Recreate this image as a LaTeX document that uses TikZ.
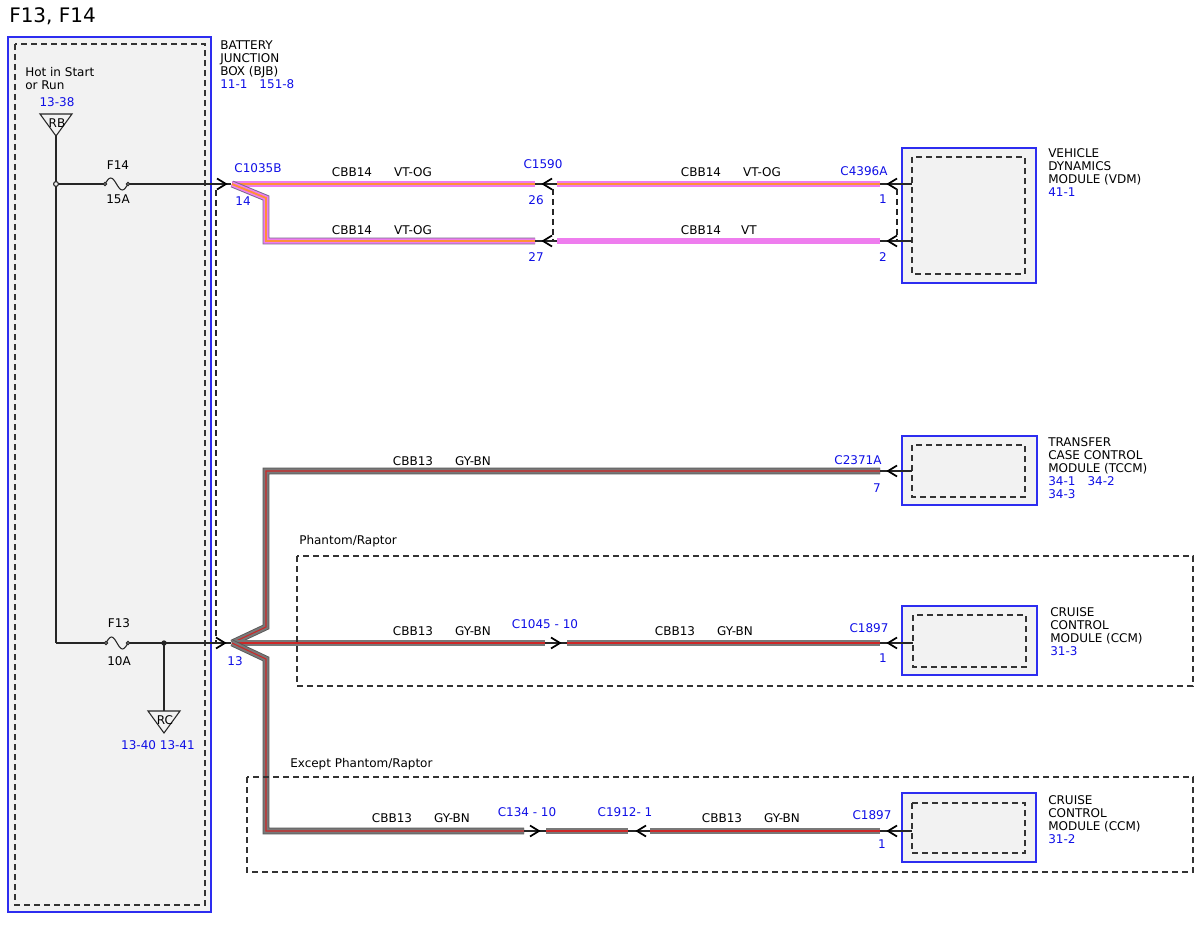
\documentclass[tikz,border=0pt]{standalone}
\usepackage{fontspec}
\setmainfont{DejaVu Sans}
\usetikzlibrary{positioning}
\definecolor{pinblue}{RGB}{15,15,230}
\definecolor{boxblue}{RGB}{45,45,240}
\definecolor{boxfill}{RGB}{242,242,242}
\definecolor{vtedge}{RGB}{120,105,140}
\definecolor{vtpink}{RGB}{238,125,238}
\definecolor{ogorange}{RGB}{255,145,55}
\definecolor{gyedge}{RGB}{85,85,85}
\definecolor{gyfill}{RGB}{120,120,120}
\definecolor{bnred}{RGB}{205,40,40}
\tikzset{
  txt/.style={inner sep=0pt, font=\fontsize{9}{9.75}\selectfont},
  pin/.style={txt, text=pinblue},
  blk/.style={txt, anchor=north west, align=left},
  wire/.style={draw=black!85, line width=0.8pt},
  grpdash/.style={draw=black!85, dash pattern=on 4.5pt off 3pt, line width=0.9pt},
  modbox/.style={draw=boxblue, fill=boxfill, line width=1pt},
  inbox/.style={draw=black!80, dash pattern=on 4.5pt off 3pt, line width=0.9pt},
  optbox/.style={draw=black!80, dash pattern=on 4.5pt off 3pt, line width=0.9pt},
  vtog/.style={draw=vtedge, line width=5.2pt, line join=miter,
    postaction={draw=vtpink, line width=3.8pt, line join=miter},
    postaction={draw=ogorange, line width=1.4pt, line join=miter}},
  vtonly/.style={draw=vtedge, line width=5.2pt,
    postaction={draw=vtpink, line width=3.8pt}},
  gybn/.style={draw=gyedge, line width=5pt, line join=miter,
    postaction={draw=gyfill, line width=3.8pt, line join=miter},
    postaction={draw=bnred, line width=0.8pt, line join=miter}},
  chev/.style={draw=black, line width=1.3pt, line join=miter},
  chevL/.pic={\draw[chev] (9,-5.5) -- (0,0) -- (9,5.5);},
  chevR/.pic={\draw[chev] (-9,-5.5) -- (0,0) -- (-9,5.5);},
}
\begin{document}
\begin{tikzpicture}[x=0.75pt,y=-0.75pt]
\useasboundingbox (0,0) rectangle (1199,927);

\node[txt, anchor=west, font=\fontsize{15}{18}\selectfont] (title) at (9,16) {F13, F14};

% battery junction box
\draw[modbox] (8,37) rectangle (211,912);
\draw[inbox] (15,44) rectangle (205,905);
\node[blk] (bjbname) at (220,40.5) {BATTERY\\JUNCTION\\BOX (BJB)\\\textcolor{pinblue}{11-1\hspace{9pt}151-8}};
\node[blk] (hot) at (25,67.5) {Hot in Start\\or Run};
\node[pin] (rbref) at (57,102) {13-38};
\draw[wire] (40,114) -- (72,114) -- (56,136) -- cycle;
\node[txt] (rbtxt) at (57,123) {RB};
\coordinate (rb) at (56,136);
\coordinate (j14) at (56,184);
\coordinate (j13) at (56,643);
\draw[wire] (rb) -- (j13);

% F14
\coordinate (f14a) at (105,184);
\coordinate (f14b) at (128,184);
\coordinate (c14) at (231,184);
\draw[wire] (j14) -- (f14a);
\draw[wire] (f14a) sin (110.75,178) cos (116.5,184) sin (122.25,190) cos (f14b);
\draw[wire] (f14b) -- (c14);
\filldraw[wire, fill=boxfill] (j14) circle[radius=1.8pt];
\filldraw[wire, fill=boxfill] (f14a) circle[radius=1.2pt];
\filldraw[wire, fill=boxfill] (f14b) circle[radius=1.2pt];
\node[txt] (f14) at (118,165) {F14};
\node[txt] (a15) at (118,199) {15A};
\pic at (226,184) {chevR};

% F13
\coordinate (f13a) at (106,643);
\coordinate (f13b) at (128,643);
\coordinate (jrc) at (164,643);
\coordinate (c13) at (231,643);
\draw[wire] (j13) -- (f13a);
\draw[wire] (f13a) sin (111.5,637) cos (117,643) sin (122.5,649) cos (f13b);
\draw[wire] (f13b) -- (c13);
\filldraw[wire, fill=boxfill] (f13a) circle[radius=1.2pt];
\filldraw[wire, fill=boxfill] (f13b) circle[radius=1.2pt];
\node[txt] (f13) at (119,623) {F13};
\node[txt] (a10) at (119,661) {10A};
\coordinate (rc) at (164,711);
\draw[wire] (jrc) -- (rc);
\fill[black!85] (jrc) circle[radius=2pt];
\draw[wire] (148,711) -- (180,711) -- (164,733) -- cycle;
\node[txt] (rctxt) at (165,720) {RC};
\node[pin] (rcref) at (158,745) {13-40 13-41};
\pic at (225,643) {chevR};
\draw[grpdash] (216,190) -- (216,643);

% C1035B pin 14 wires
\coordinate (w14) at (232,184);
\coordinate (a26) at (535,184);
\coordinate (a27) at (535,241);
\draw[vtog] (w14) -- (a26);
\draw[vtog] (w14) -- (266,198) -- (266,241) -- (a27);
\node[pin] (c1035b) at (258,168) {C1035B};
\node[pin] (p14) at (243,201) {14};
\node[txt] (l1) at (352,172) {CBB14};
\node[txt] (l2) at (413,172) {VT-OG};
\node[txt] (l3) at (352,230) {CBB14};
\node[txt] (l4) at (413,230) {VT-OG};

% C1590
\coordinate (b26) at (557,184);
\coordinate (b27) at (557,241);
\draw[wire] (a26) -- (b26);
\draw[wire] (a27) -- (b27);
\pic at (543,184) {chevL};
\pic at (543,241) {chevL};
\draw[grpdash] (553,189) -- (553,241);
\node[pin] (c1590) at (543,164) {C1590};
\node[pin] (p26) at (536,200) {26};
\node[pin] (p27) at (536,257) {27};

\coordinate (v1) at (880,184);
\coordinate (v2) at (880,241);
\draw[vtog] (b26) -- (v1);
\draw[vtonly] (b27) -- (v2);
\node[txt] (l5) at (701,172) {CBB14};
\node[txt] (l6) at (762,172) {VT-OG};
\node[txt] (l7) at (701,230) {CBB14};
\node[txt] (l8) at (749,230) {VT};

% VDM
\draw[modbox] (902,148) rectangle (1036,283);
\draw[inbox] (912,157) rectangle (1025,274);
\coordinate (vdm1) at (912,184);
\coordinate (vdm2) at (912,241);
\draw[wire] (v1) -- (vdm1);
\draw[wire] (v2) -- (vdm2);
\pic at (888,184) {chevL};
\pic at (888,241) {chevL};
\draw[grpdash] (897,189) -- (897,241);
\node[pin] (c4396a) at (864,171) {C4396A};
\node[pin] (p1) at (883,199) {1};
\node[pin] (p2) at (883,257) {2};
\node[blk] (vdmname) at (1048,148.5) {VEHICLE\\DYNAMICS\\MODULE (VDM)\\\textcolor{pinblue}{41-1}};

% C1035B pin 13 wires
\coordinate (b13) at (232,643);
\coordinate (t7) at (880,471);
\coordinate (m10) at (545,643);
\coordinate (d10) at (524,831);
\draw[gybn] (b13) -- (266,627) -- (266,471) -- (t7);
\draw[gybn] (b13) -- (m10);
\draw[gybn] (b13) -- (266,659) -- (266,831) -- (d10);
\node[pin] (p13) at (235,661) {13};

% TCCM
\draw[modbox] (902,436) rectangle (1037,505);
\draw[inbox] (912,445) rectangle (1025,497);
\coordinate (tccm7) at (912,471);
\draw[wire] (t7) -- (tccm7);
\pic at (888,471) {chevL};
\node[txt] (l9) at (413,461) {CBB13};
\node[txt] (l10) at (473,461) {GY-BN};
\node[pin] (c2371a) at (858,460) {C2371A};
\node[pin] (p7) at (877,488) {7};
\node[blk] (tccmname) at (1048,437.5) {TRANSFER\\CASE CONTROL\\MODULE (TCCM)\\\textcolor{pinblue}{34-1\hspace{9pt}34-2}\\\textcolor{pinblue}{34-3}};

% Phantom/Raptor
\draw[optbox] (297,556) rectangle (1193,686);
\node[txt, anchor=west] (phantom) at (299,541) {Phantom/Raptor};
\coordinate (m10b) at (567,643);
\coordinate (m1) at (880,643);
\draw[wire] (m10) -- (m10b);
\pic at (560,643) {chevR};
\draw[gybn] (m10b) -- (m1);
\node[txt] (l11) at (413,631) {CBB13};
\node[txt] (l12) at (473,631) {GY-BN};
\node[pin] (c1045) at (545,624) {C1045 - 10};
\node[txt] (l13) at (675,631) {CBB13};
\node[txt] (l14) at (735,631) {GY-BN};
\draw[modbox] (902,606) rectangle (1037,675);
\draw[inbox] (913,615) rectangle (1026,667);
\coordinate (ccm1) at (913,643);
\draw[wire] (m1) -- (ccm1);
\pic at (888,643) {chevL};
\node[pin] (c1897a) at (869,628) {C1897};
\node[pin] (p1a) at (883,658) {1};
\node[blk] (ccmname) at (1050,607.5) {CRUISE\\CONTROL\\MODULE (CCM)\\\textcolor{pinblue}{31-3}};

% Except Phantom/Raptor
\draw[optbox] (247,777) rectangle (1193,872);
\node[txt, anchor=west] (except) at (290,764) {Except Phantom/Raptor};
\coordinate (d10b) at (546,831);
\coordinate (d1) at (628,831);
\coordinate (d1b) at (650,831);
\coordinate (d2) at (880,831);
\draw[wire] (d10) -- (d10b);
\draw[wire] (d1) -- (d1b);
\pic at (539,831) {chevR};
\pic at (637,831) {chevL};
\draw[gybn] (d10b) -- (d1);
\draw[gybn] (d1b) -- (d2);
\node[txt] (l15) at (392,818) {CBB13};
\node[txt] (l16) at (452,818) {GY-BN};
\node[pin] (c134) at (527,812) {C134 - 10};
\node[pin] (c1912) at (625,812) {C1912- 1};
\node[txt] (l17) at (722,818) {CBB13};
\node[txt] (l18) at (782,818) {GY-BN};
\draw[modbox] (902,793) rectangle (1036,862);
\draw[inbox] (912,803) rectangle (1025,853);
\coordinate (ccm2) at (912,831);
\draw[wire] (d2) -- (ccm2);
\pic at (888,831) {chevL};
\node[pin] (c1897b) at (872,815) {C1897};
\node[pin] (p1b) at (882,844) {1};
\node[blk] (ccmname2) at (1048,795.5) {CRUISE\\CONTROL\\MODULE (CCM)\\\textcolor{pinblue}{31-2}};
\end{tikzpicture}
\end{document}
